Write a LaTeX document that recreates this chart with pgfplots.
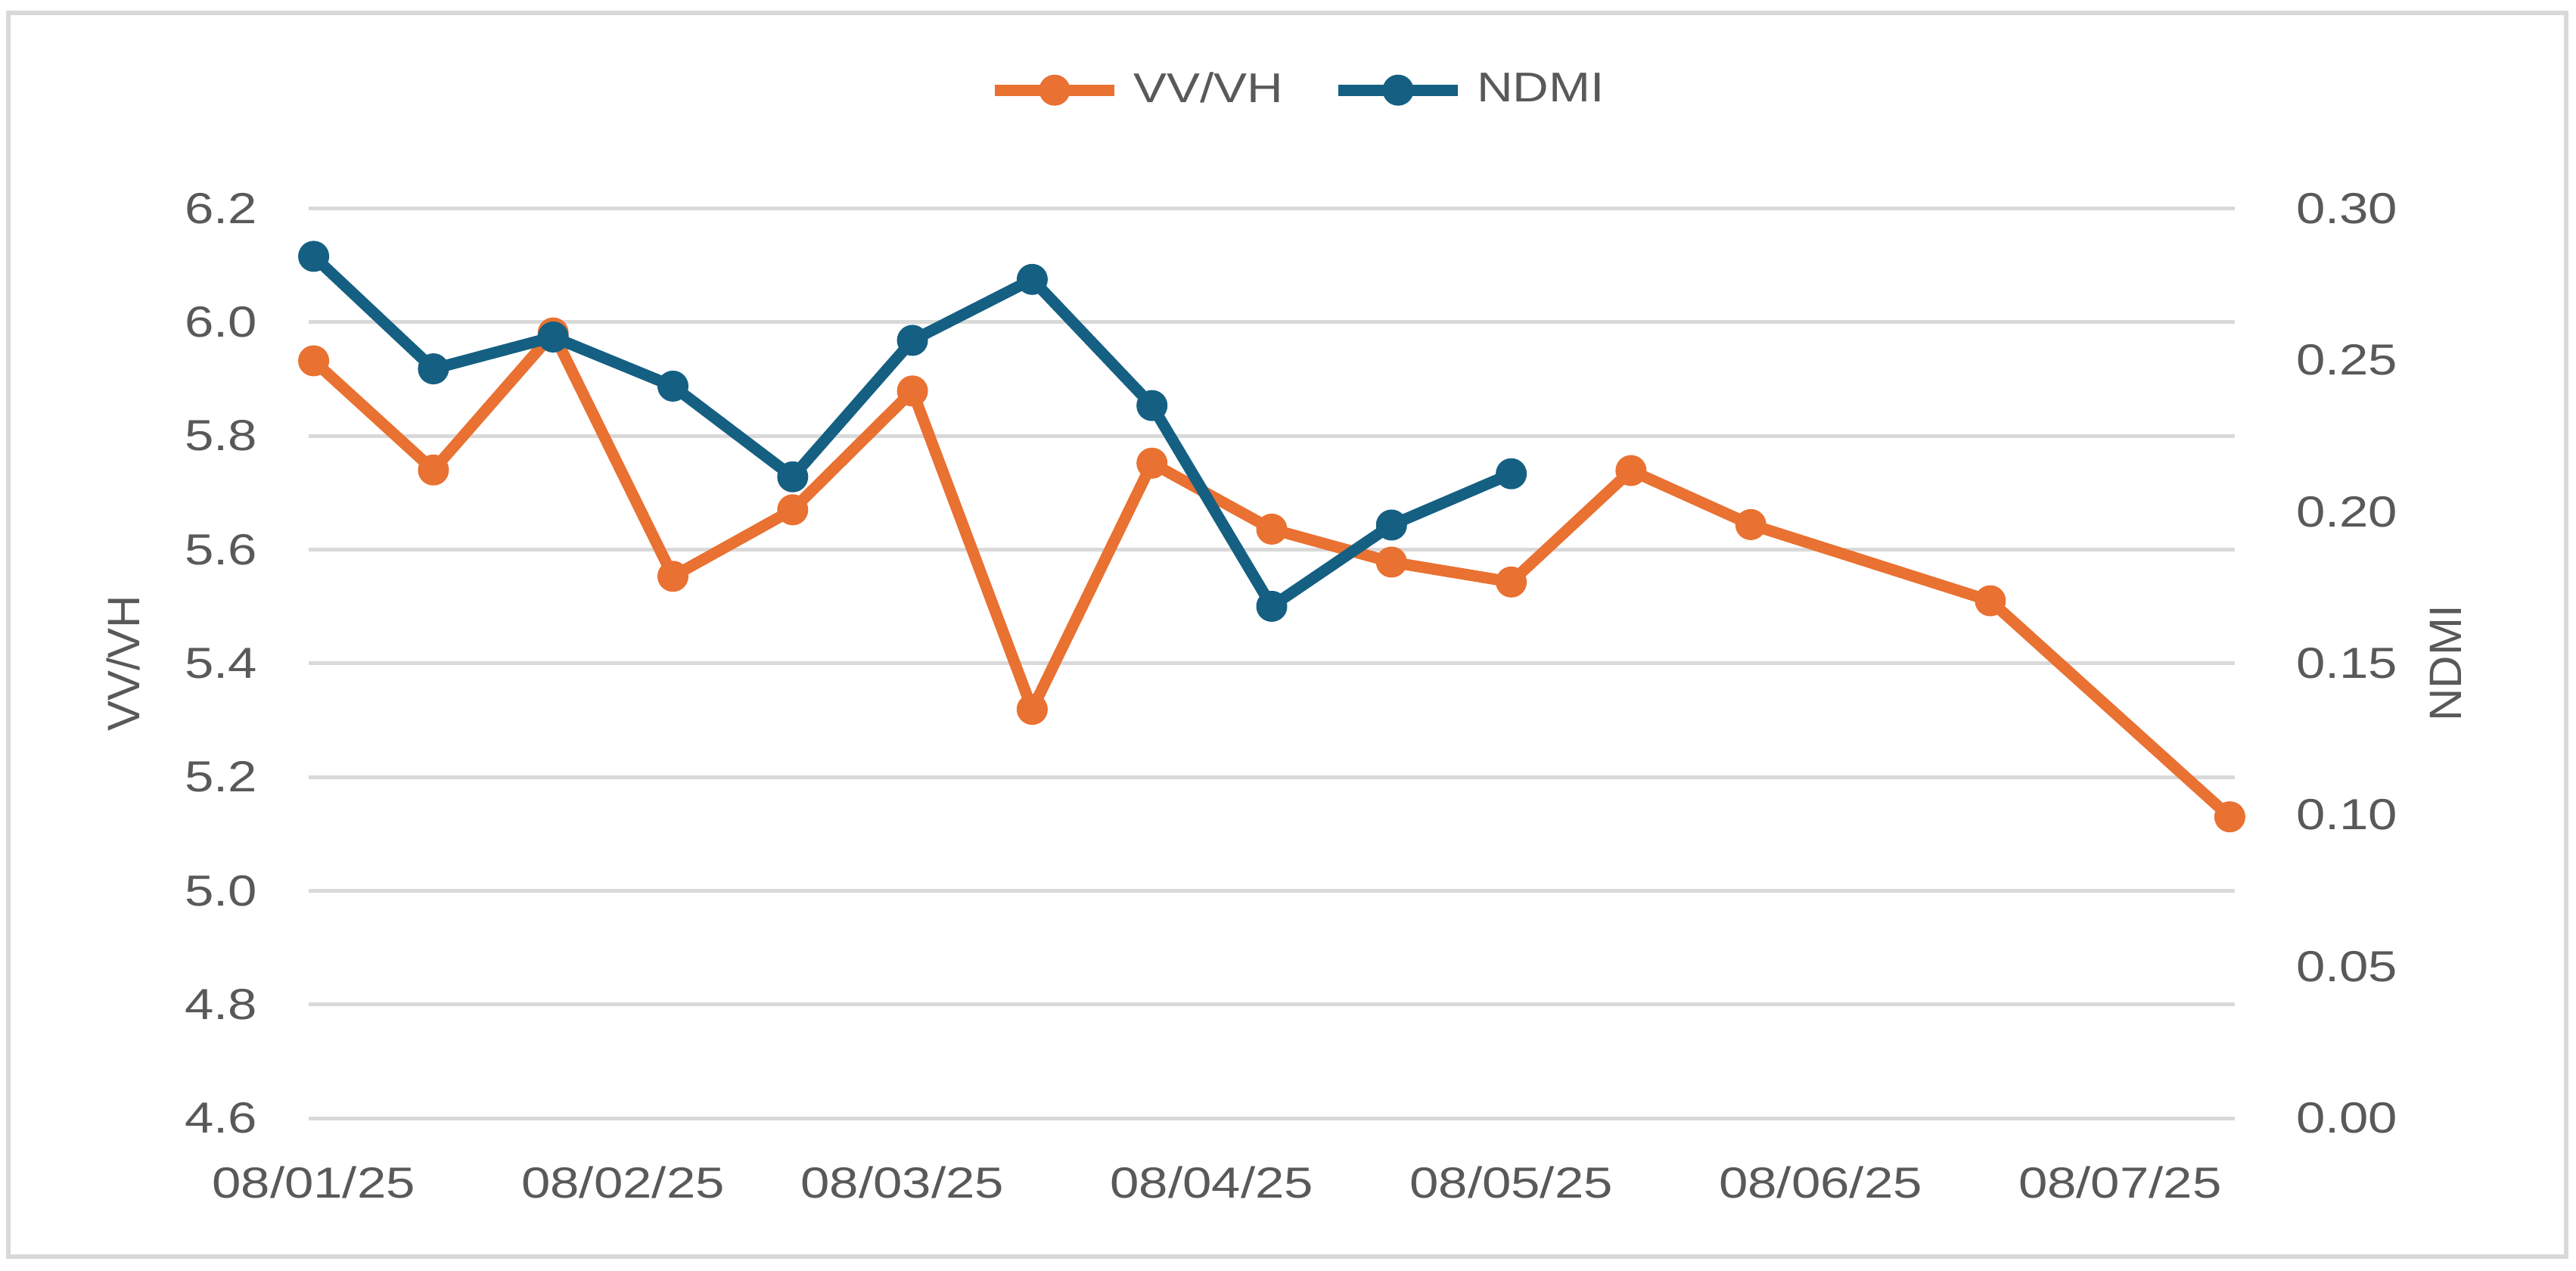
\documentclass[border=0pt]{standalone}
\usepackage{fontspec}
\setmainfont{Liberation Sans}
\newfontfamily\stretchfont[FakeStretch=1.2]{Liberation Sans}
\usepackage{pgfplots}
\pgfplotsset{compat=1.18}
\definecolor{vvorange}{HTML}{E97132}
\definecolor{ndmiblue}{HTML}{156082}
\definecolor{txtgray}{HTML}{595959}
\definecolor{gridgray}{HTML}{D9D9D9}

\pgfplotstableread{
day vv
0   5.932
12  5.740
24  5.981
36  5.553
48  5.670
60  5.879
72  5.319
84  5.752
96  5.636
108 5.578
120 5.543
132 5.739
144 5.644
168 5.510
192 5.130
}\vvdata

\pgfplotstableread{
day ndmi
0   0.2842
12  0.2471
24  0.2576
36  0.2414
48  0.2115
60  0.2565
72  0.2766
84  0.2350
96  0.1688
108 0.1956
120 0.2125
}\ndmidata

\begin{document}
\begin{tikzpicture}
\useasboundingbox (0,0) rectangle (681pt,335.8pt);
\draw[gridgray, line width=1.2pt] (2.2pt,3.6pt) rectangle (678.4pt,332.4pt);
\pgfplotsset{
  every axis/.append style={
    at={(81.6pt,40.2pt)}, anchor=south west,
    scale only axis, width=509.2pt, height=240.5pt,
    xmin=-0.5, xmax=192.5,
    clip=false,
    axis line style={draw=none},
    major tick length=0pt,
    tick style={draw=none},
    /pgf/number format/assume math mode=true,
    ticklabel style={font=\fontsize{11.5}{13}\selectfont\stretchfont, text=txtgray, inner sep=0pt},
  },
  ser/.style={line width=3pt, line join=round, mark=*, mark size=3.9pt,
    mark options={solid, line width=0.4pt}},
}
\begin{axis}[
  axis y line*=left, axis x line*=bottom,
  ymin=4.6, ymax=6.2,
  ytick={4.6,4.8,5.0,5.2,5.4,5.6,5.8,6.0,6.2},
  yticklabel style={/pgf/number format/fixed, /pgf/number format/fixed zerofill,
    /pgf/number format/precision=1, anchor=east, xshift=-13.4pt},
  ymajorgrids, major grid style={gridgray, line width=1pt},
  xtick={0,31,59,90,120,151,181},
  xticklabels={08/01/25,08/02/25,08/03/25,08/04/25,08/05/25,08/06/25,08/07/25},
  xticklabel style={anchor=base, yshift=-21pt},
  ylabel={VV/VH},
  every axis y label/.style={at={(axis description cs:-0.0962,0.5)}, rotate=90, anchor=center,
    font=\fontsize{12}{14}\selectfont, text=txtgray},
  legend columns=2,
  legend style={at={(0.513,1.130)}, anchor=center, draw=none, fill=none,
    font=\fontsize{11}{13}\selectfont\stretchfont, text=txtgray,
    nodes={inner sep=0pt},
    /tikz/every odd column/.append style={column sep=3.5pt},
    /tikz/every even column/.append style={column sep=13pt}},
  legend image code/.code={\draw[mark repeat=2, mark phase=2, #1] plot coordinates {(0pt,0pt) (15.85pt,0pt) (31.7pt,0pt)};},
]
\addplot[ser, color=vvorange] table[x=day, y=vv] {\vvdata};
\addlegendentry{VV/VH}
\addlegendimage{ser, color=ndmiblue}
\addlegendentry{NDMI}
\end{axis}
\begin{axis}[
  axis y line*=right, axis x line=none,
  ymin=0, ymax=0.30,
  ytick={0,0.05,0.10,0.15,0.20,0.25,0.30},
  yticklabel style={/pgf/number format/fixed, /pgf/number format/fixed zerofill,
    /pgf/number format/precision=2, anchor=west, xshift=16pt},
  ylabel={NDMI},
  every axis y label/.style={at={(axis description cs:1.1096,0.5)}, rotate=90, anchor=center,
    font=\fontsize{12}{14}\selectfont, text=txtgray},
]
\addplot[ser, color=ndmiblue] table[x=day, y=ndmi] {\ndmidata};
\end{axis}
\end{tikzpicture}
\end{document}
